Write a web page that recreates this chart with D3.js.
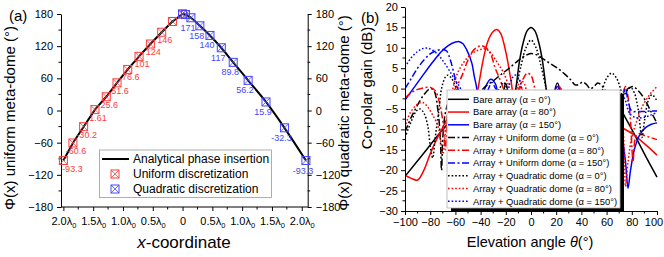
<!DOCTYPE html>
<html><head><meta charset="utf-8">
<script src="https://cdn.jsdelivr.net/npm/d3@7"></script>
<style>
body{margin:0;background:#fff}
svg{display:block}
text{font-family:Arial,"Liberation Sans",sans-serif}
</style></head>
<body><svg id="c" width="664" height="257"></svg>
<script>
// ---------- Panel (a) data ----------
const uniformX     = [-2.00,-1.84,-1.66,-1.47,-1.28,-1.10,-0.92,-0.73,-0.54,-0.35,-0.17,0.00];
const uniformPhase = [-93.3,-60.6,-30.2,1.61,25.6,51.6,76.6,101,124,146,166,180];
const uniformLabel = ["-93.3","-60.6","-30.2","1.61","25.6","51.6","76.6","101","124","146","",""];
const quadX     = [0.00,0.05,0.14,0.29,0.46,0.65,0.85,1.10,1.40,1.71,2.07];
const quadPhase = [180,179,173,158,140,117,89.8,56.2,15.9,-32.3,-93.3];
const quadLabel = ["","","171","158","140","117","89.8","56.2","15.9","-32.3","-93.3"];
const xTicksA = [-2,-1.5,-1,-0.5,0,0.5,1,1.5,2];
const yTicksA = [-180,-120,-60,0,60,120,180];
const legendA = ["Analytical phase insertion","Uniform discretization","Quadratic discretization"];

// ---------- Panel (b) data ----------
const xTicksB = [-100,-80,-60,-40,-20,0,20,40,60,80,100];
const yTicksB = [-30,-25,-20,-15,-10,-5,0,5,10,15,20];
const bareA0 = [[-100,-21.5],[-85,-15.8],[-70,-10],[-60,-7],[-50,-5],[-42,-4],[-36,-8],[-32,-3],[-28,-1.5],[-25,-6],[-22,-1],[-20,1.3],[-18,-2],[-16,-15],[-14,-4],[-12,0],[-9,7],[-6,11.5],[-3,14.2],[0,15],[3,14.2],[6,11.5],[9,7],[12,0],[14,-4],[16,-15],[18,-2],[21,1.4],[24,-2],[26,-8],[30,-2],[35,-3],[40,-6],[50,-4],[60,-3],[66,-2.5],[70,-4],[73,-6],[80,-10],[90,-16],[100,-21.7]];
const bareA80 = [[-100,-21.2],[-95,-22],[-90,-22.4],[-85,-20],[-80,-16],[-75,-12.5],[-70,-9.5],[-66,-7],[-60,-3],[-55,-2],[-50,-5],[-46,-15],[-44,-3],[-42,0],[-38,7],[-34,11.8],[-30,14],[-27,14.5],[-24,13.5],[-20,9],[-17,4],[-15,0],[-13,-10],[-10,-2],[-8,0.5],[-5,-3],[0,-8],[5,-2],[10,-1],[15,-4],[20,-1],[23,0.3],[26,-3],[30,-6],[40,-5],[50,-7],[60,-8],[70,-9],[73,-9.7],[80,-11],[90,-13.5],[100,-16.3]];
const bareA150 = [[-100,-2.8],[-92,0.6],[-85,3.6],[-78,6.5],[-72,8.8],[-66,10.5],[-60,11.4],[-57,11.5],[-54,11],[-51,9.5],[-47,6.3],[-45,3],[-43,0],[-41,-6],[-39,-3],[-36,0.5],[-32,2.3],[-28,1],[-26,-4],[-24,-12],[-22,-3],[-15,-4],[-10,-6],[0,-3],[10,-3],[18,-1],[21,0.5],[24,-1],[30,-5],[40,-6],[50,-7],[60,-8],[68,-10],[72,-12],[75,-18],[77,-24.4],[79,-20],[82,-15],[86,-11.5],[90,-9.8],[95,-8.8],[100,-8.4]];
const uniA0 = [[-100,-10.6],[-95,-7],[-90,-4],[-85,-1.5],[-80,0],[-77,-0.5],[-74,-5],[-72,-12],[-71,-20],[-70,-12],[-68,-6],[-65,-3],[-60,-1.5],[-55,-2.5],[-50,-4],[-46,-6],[-42,-3],[-38,0],[-30,1.9],[-24,3.4],[-17,5.1],[-10,6.9],[-5,8.0],[0,8.6],[5,8.2],[10,7.2],[15,6.2],[21,5],[27,3.5],[32,2],[35,0.9],[38,1],[41,1.6],[44,1],[47,0],[50,0.5],[53,1.4],[56,0.8],[59,-0.5],[62,-2],[66,-2],[70,-1.5],[73,-1],[77,0],[81,0.5],[85,-0.5],[90,-2.5],[95,-5.5],[100,-8.5]];
const uniA80 = [[-100,-2.3],[-95,-1],[-90,-0.2],[-85,0.2],[-80,0.3],[-76,-0.5],[-73,-3],[-70,-8],[-68,-15],[-66,-6],[-62,-1],[-60,0],[-55,3],[-50,7],[-46,9.3],[-42,10.3],[-39,10.5],[-35,9.8],[-32,8.5],[-28.6,5.2],[-25,2.5],[-22,0],[-19,-4],[-16,-8],[-13,-3],[-9,0.5],[-6,2.5],[-3,3.8],[0,3.2],[3,0],[6,-5],[10,-4],[15,-3],[20,-2],[23,0],[26,-2],[30,-5],[40,-6],[50,-5],[60,-6],[70,-3],[73,-1],[75,0.5],[77,-2],[79,-8],[80,-14],[81,-18],[83,-12],[86,-11],[90,-11.5],[95,-12],[100,-12.5]];
const uniA150 = [[-100,0],[-95,2.5],[-90,5],[-85,7],[-80,8.5],[-75,9.3],[-70,9.6],[-67,9.2],[-64,7],[-61,3.5],[-58,0],[-56,-4],[-54,-10],[-50,-3],[-45,-1],[-40,-4],[-35,-1],[-31,1.5],[-28,0],[-20,-3],[0,-5],[10,-4],[20,-2],[30,-5],[50,-6],[70,-5],[73,-2],[75,0],[77,-3],[80,-5.5],[85,-5.6],[90,-5.6],[95,-5.5],[100,-5.5]];
const quadA0 = [[-100,-12],[-95,-8],[-91,-5.5],[-88,-5],[-85,-6],[-82,-9],[-80,-14],[-78,-17],[-76,-12],[-73,-5],[-71,0],[-68,2.8],[-66,3.3],[-63,2.5],[-60,0.5],[-58,-1],[-56,-6],[-50,-3],[-40,-4],[-30,-2],[-25,0],[-22,1.5],[-19,0],[-16,-5],[-14,-2],[-12,0],[-8,5.5],[-4,10],[0,11.9],[4,10],[8,5.5],[12,0],[14,-3],[25,-4],[35,-6],[45,-4],[52,-6],[55,-3],[57,0],[60,2.5],[64,3.8],[68,2.5],[71,0],[73,-2],[76,-0.5],[79,0.3],[82,-1],[85,-5],[88,-12],[90,-8],[93,-3],[96,-1.5],[100,-3]];
const quadA80 = [[-100,-9.5],[-96,-6],[-90,-3.8],[-86,-3.4],[-82,-4.5],[-78,-6.5],[-74,-9],[-72,-12],[-70,-16],[-67,-8],[-64,-3],[-62,0],[-58,4],[-52,7],[-46,8.8],[-40,9.6],[-36,9.7],[-32,8.8],[-27,6.5],[-22,4],[-17,0],[-14,-4],[-11,0],[-8,2],[-5,1],[-2,-3],[5,-5],[15,-3],[20,-1],[23,0.5],[26,-2],[40,-5],[60,-4],[70,-2],[72,-5],[74,-15],[75,-24],[77,-18],[80,-12],[85,-7],[89,-4],[93,-2],[96,-0.8],[100,0.5]];
const quadA150 = [[-100,5.3],[-95,7.6],[-90,9.1],[-86,9.8],[-82,9.9],[-78,9.4],[-73,8],[-68,6],[-63,3.5],[-60,2],[-56,0],[-54,-5],[-52,-12],[-48,-4],[-40,-5],[-30,-3],[-22,-1],[-18,0.5],[-14,3],[-12,3.3],[-9,2],[-6,-2],[0,-6],[20,-4],[50,-6],[70,-3],[73,-2],[75,-3],[78,-6],[82,-7],[86,-7.2],[90,-7],[95,-6.5],[100,-5.8]];
const seriesB = [
  {name:"Bare array (\u03b1 = 0\u00b0)",              data:bareA0,  color:"#000000", dash:null},
  {name:"Bare array (\u03b1 = 80\u00b0)",             data:bareA80, color:"#ff0000", dash:null},
  {name:"Bare array (\u03b1 = 150\u00b0)",            data:bareA150,color:"#0000ff", dash:null},
  {name:"Array + Uniform dome (\u03b1 = 0\u00b0)",    data:uniA0,   color:"#000000", dash:"dd"},
  {name:"Array + Uniform dome (\u03b1 = 80\u00b0)",   data:uniA80,  color:"#ff0000", dash:"dd"},
  {name:"Array + Uniform dome (\u03b1 = 150\u00b0)",  data:uniA150, color:"#0000ff", dash:"dd"},
  {name:"Array + Quadratic dome (\u03b1 = 0\u00b0)",  data:quadA0,  color:"#000000", dash:"dot"},
  {name:"Array + Quadratic dome (\u03b1 = 80\u00b0)", data:quadA80, color:"#ff0000", dash:"dot"},
  {name:"Array + Quadratic dome (\u03b1 = 150\u00b0)",data:quadA150,color:"#0000ff", dash:"dot"}
];

const svg = d3.select("#c");
const dashes = {dd:"7,2.5,2,2.5", dot:"1.6,2"};
const RED="#ff3b3b", BLUE="#4646ff";

// ================= Panel (a) =================
const xA = d3.scaleLinear().domain([-2.04,2.1]).range([61,307.7]);
const yA = d3.scaleLinear().domain([-180,180]).range([207,14]);
const gA = svg.append("g");

function styleAxis(g){
  g.selectAll("path.domain").attr("stroke","#000").attr("stroke-width",1);
  g.selectAll(".tick line").attr("stroke","#000").attr("stroke-width",1);
  g.selectAll(".tick text").attr("fill","#000").style("font-family","Arial, 'Liberation Sans', sans-serif");
}
function minorTicks(g, vals, scale, orient, len){
  vals.forEach(v=>{
    const p = scale(v);
    let l;
    if(orient==="left") l=g.append("line").attr("x1",0).attr("x2",-len).attr("y1",p).attr("y2",p);
    if(orient==="right") l=g.append("line").attr("x1",0).attr("x2",len).attr("y1",p).attr("y2",p);
    if(orient==="bottom") l=g.append("line").attr("y1",0).attr("y2",len).attr("x1",p).attr("x2",p);
    l.attr("stroke","#000").attr("stroke-width",1);
  });
}

const axLA = gA.append("g").attr("transform","translate(61,0)")
  .call(d3.axisLeft(yA).tickValues(yTicksA).tickSize(4).tickPadding(4).tickSizeOuter(0));
axLA.selectAll("text").attr("font-size",11);
minorTicks(axLA,[-150,-90,-30,30,90,150],yA,"left",2.5);
styleAxis(axLA);

const axRA = gA.append("g").attr("transform","translate(307.7,0)")
  .call(d3.axisRight(yA).tickValues(yTicksA).tickSize(4).tickPadding(4).tickSizeOuter(0));
axRA.selectAll("text").attr("font-size",11);
minorTicks(axRA,[-150,-90,-30,30,90,150],yA,"right",2.5);
styleAxis(axRA);

const axBA = gA.append("g").attr("transform","translate(0,207)")
  .call(d3.axisBottom(xA).tickValues(xTicksA).tickSize(4).tickPadding(5).tickSizeOuter(0).tickFormat(""));
axBA.select("path.domain").attr("d","M61,0H307.7");
minorTicks(axBA,[-1.75,-1.25,-0.75,-0.25,0.25,0.75,1.25,1.75],xA,"bottom",2.5);
styleAxis(axBA);
axBA.selectAll(".tick").each(function(d){
  const t = d3.select(this).select("text").attr("font-size",11).attr("dy","0.71em").attr("y",10);
  if(d===0){ t.text("0"); }
  else{
    t.text(Math.abs(d).toFixed(1)+"\u03bb");
    t.append("tspan").attr("font-size",7.5).attr("dy","3").text("0");
  }
});

// analytical curve
const lineA = d3.line().x(d=>xA(d[0])).y(d=>yA(d[1]));
const leftPts = uniformX.map((x,i)=>[x,uniformPhase[i]]);
const rightPts = quadX.map((x,i)=>[x,quadPhase[i]]);
gA.append("path").attr("d",lineA(leftPts)).attr("fill","none").attr("stroke","#000").attr("stroke-width",2);
gA.append("path").attr("d",lineA.curve(d3.curveMonotoneX)(rightPts)).attr("fill","none").attr("stroke","#000").attr("stroke-width",2);

function marker(g,x,y,color,s){
  const h=s/2;
  g.append("rect").attr("x",x-h).attr("y",y-h).attr("width",s).attr("height",s)
    .attr("fill","none").attr("stroke",color).attr("stroke-width",1);
  g.append("path").attr("d",`M${x-h},${y-h}L${x+h},${y+h}M${x+h},${y-h}L${x-h},${y+h}`)
    .attr("stroke",color).attr("stroke-width",0.8).attr("fill","none");
}
uniformX.forEach((x,i)=>{ marker(gA,xA(x),yA(uniformPhase[i]),RED,8); });
quadX.forEach((x,i)=>{ marker(gA,xA(x),yA(quadPhase[i]),BLUE,8); });
uniformX.forEach((x,i)=>{
  if(uniformLabel[i]) gA.append("text").attr("x",xA(x)+(i===0?9:3)).attr("y",yA(uniformPhase[i])+11)
    .attr("text-anchor","middle").attr("font-size",9).attr("fill",RED).text(uniformLabel[i]);
});
quadX.forEach((x,i)=>{
  if(quadLabel[i]) gA.append("text").attr("x",xA(x)-3).attr("y",yA(quadPhase[i])+13)
    .attr("text-anchor","middle").attr("font-size",9).attr("fill",BLUE).text(quadLabel[i]);
});

// legend (a)
const lgA = gA.append("g");
lgA.append("rect").attr("x",99.5).attr("y",150).attr("width",172).attr("height",47.5)
  .attr("fill","#fff").attr("stroke","#9a9a9a").attr("stroke-width",0.8);
lgA.append("line").attr("x1",102).attr("x2",129).attr("y1",159).attr("y2",159).attr("stroke","#000").attr("stroke-width",2);
marker(lgA,115,174,RED,8);
marker(lgA,115,189,BLUE,8);
legendA.forEach((t,i)=>{
  lgA.append("text").attr("x",133).attr("y",163+i*15).attr("font-size",12).attr("fill","#000").text(t);
});

// titles (a)
svg.append("text").attr("x",9).attr("y",21).attr("font-size",15).text("(a)");
svg.append("text").attr("transform","translate(15,118) rotate(-90)").attr("text-anchor","middle")
  .attr("font-size",15).text("\u03a6(x) uniform meta-dome (\u00b0)");
svg.append("text").attr("transform","translate(349,113) rotate(-90)").attr("text-anchor","middle")
  .attr("font-size",15).text("\u03a6(x) quadratic meta-dome (\u00b0)");
const xt = svg.append("text").attr("x",184).attr("y",248).attr("text-anchor","middle").attr("font-size",17);
xt.append("tspan").attr("font-style","italic").text("x");
xt.append("tspan").text("-coordinate");

// ================= Panel (b) =================
const xB = d3.scaleLinear().domain([-100,100]).range([405,657]);
const yB = d3.scaleLinear().domain([-30,20]).range([211,7]);
const gB = svg.append("g");

svg.append("defs").append("clipPath").attr("id","clipB").append("rect")
  .attr("x",405).attr("y",0).attr("width",259).attr("height",211);

const lineB = d3.line().x(d=>xB(d[0])).y(d=>yB(d[1])).curve(d3.curveCatmullRom.alpha(0.5));
const curves = gB.append("g").attr("clip-path","url(#clipB)");
seriesB.forEach(s=>{
  curves.append("path").attr("d",lineB(s.data)).attr("fill","none").attr("stroke",s.color)
    .attr("stroke-width",1.5).attr("stroke-dasharray",s.dash?dashes[s.dash]:null);
});

const axLB = gB.append("g").attr("transform","translate(405,0)")
  .call(d3.axisLeft(yB).tickValues(yTicksB).tickSize(4).tickPadding(3).tickSizeOuter(0));
axLB.selectAll("text").attr("font-size",11);
minorTicks(axLB,[-27.5,-22.5,-17.5,-12.5,-7.5,-2.5,2.5,7.5,12.5,17.5],yB,"left",2.5);
styleAxis(axLB);
const axBB = gB.append("g").attr("transform","translate(0,211)")
  .call(d3.axisBottom(xB).tickValues(xTicksB).tickSize(4).tickPadding(3).tickSizeOuter(0));
axBB.selectAll("text").attr("font-size",11);
axBB.selectAll(".tick").filter(d=>d===100).select("text").attr("dx",-3.5);
minorTicks(axBB,[-90,-70,-50,-30,-10,10,30,50,70,90],xB,"bottom",2.5);
styleAxis(axBB);

// legend (b)
const lgB = gB.append("g");
lgB.append("rect").attr("x",451).attr("y",94).attr("width",173).attr("height",118).attr("fill","#000");
lgB.append("rect").attr("x",447).attr("y",90).attr("width",173).attr("height",118)
  .attr("fill","#fff").attr("stroke","#b0b0b0").attr("stroke-width",0.8);
seriesB.forEach((s,i)=>{
  const y = 99.3 + i*12.75;
  lgB.append("line").attr("x1",448).attr("x2",469).attr("y1",y).attr("y2",y)
    .attr("stroke",s.color).attr("stroke-width",1.5).attr("stroke-dasharray",s.dash?dashes[s.dash]:null);
  lgB.append("text").attr("x",473).attr("y",y+3.4).attr("font-size",9.4).attr("fill","#000").text(s.name);
});

// titles (b)
svg.append("text").attr("x",361).attr("y",23).attr("font-size",15).text("(b)");
svg.append("text").attr("transform","translate(372,88) rotate(-90)").attr("text-anchor","middle")
  .attr("font-size",15).text("Co-polar gain (dB)");
const xt2 = svg.append("text").attr("x",530).attr("y",247).attr("text-anchor","middle").attr("font-size",14.5);
xt2.append("tspan").text("Elevation angle ");
xt2.append("tspan").attr("font-style","italic").text("\u03b8");
xt2.append("tspan").text("(\u00b0)");
</script>
</body></html>
